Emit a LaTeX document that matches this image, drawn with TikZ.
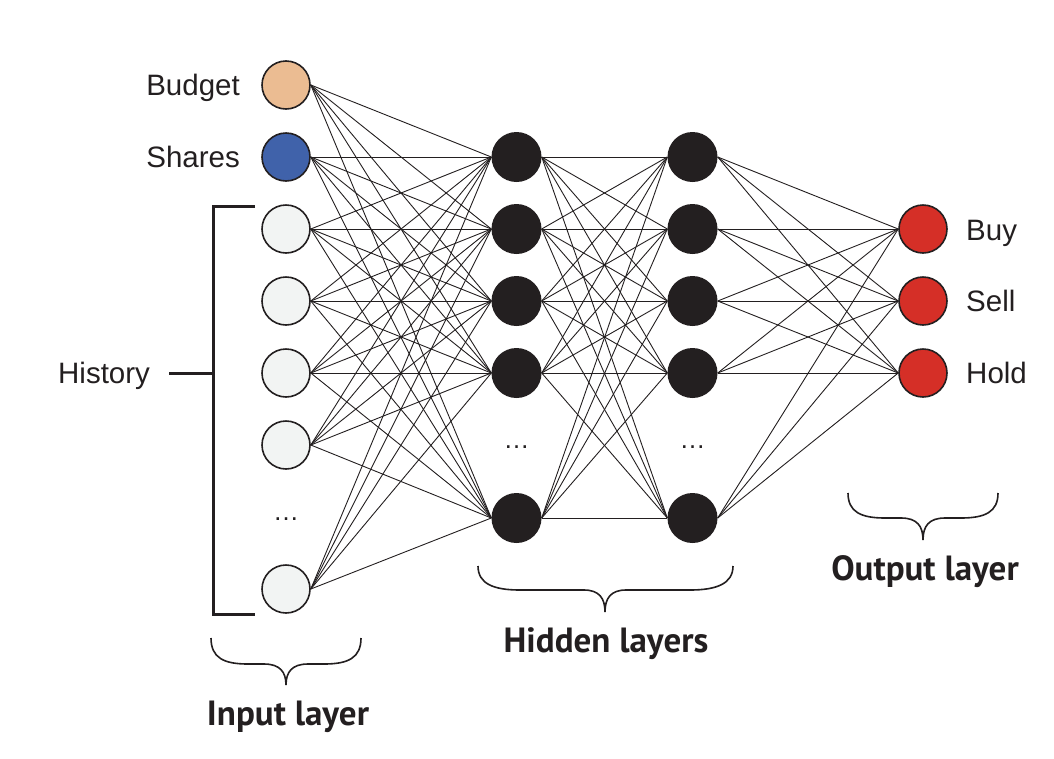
\documentclass[tikz,border=0pt]{standalone}
\usepackage{fontspec}
\setmainfont{Liberation Sans}
\newfontfamily\labfont{PT Sans}
\definecolor{budgetc}{HTML}{EBBC92}
\definecolor{sharesc}{HTML}{4062AA}
\definecolor{histc}{HTML}{F2F4F3}
\definecolor{hidc}{HTML}{231F20}
\definecolor{outc}{HTML}{D52F27}
\tikzset{
  neuron/.style={circle,minimum size=48pt,inner sep=0pt,draw=hidc,line width=1.6pt},
  hidneuron/.style={circle,minimum size=50pt,inner sep=0pt,fill=hidc,draw=none},
  conn/.style={draw=hidc,line width=0.9pt},
  lbl/.style={inner sep=0pt,font=\fontsize{29.5}{31}\selectfont,text=hidc},
  laylbl/.style={inner sep=0pt,anchor=base,font=\labfont\bfseries\fontsize{35}{38}\selectfont,text=hidc},
  dotsn/.style={inner sep=0pt,font=\fontsize{26}{28}\selectfont,text=hidc},
  brace/.style={draw=hidc,line width=1.6pt},
  bracket/.style={draw=hidc,line width=3pt}
}
\begin{document}
\begin{tikzpicture}[x=1pt,y=-1pt]
\useasboundingbox (0,0) rectangle (1054,758);
% input layer
\node[neuron,fill=budgetc] (i1) at (286,85) {};
\node[neuron,fill=sharesc] (i2) at (286,157) {};
\node[neuron,fill=histc] (i3) at (286,229) {};
\node[neuron,fill=histc] (i4) at (286,301) {};
\node[neuron,fill=histc] (i5) at (286,373) {};
\node[neuron,fill=histc] (i6) at (286,445) {};
\node[dotsn] (idots) at (286,519) {…};
\node[neuron,fill=histc] (i7) at (286,589) {};
% hidden layers
\foreach \n/\y in {1/157,2/229,3/301,4/373,5/518}{
  \node[hidneuron] (a\n) at (516.5,\y) {};
  \node[hidneuron] (b\n) at (692.5,\y) {};
}
\node[dotsn] (adots) at (516.5,447) {…};
\node[dotsn] (bdots) at (692.5,447) {…};
% output layer
\node[neuron,fill=outc] (o1) at (923,229) {};
\node[neuron,fill=outc] (o2) at (923,301) {};
\node[neuron,fill=outc] (o3) at (923,373) {};
% connections
\foreach \i in {1,...,7}{
  \foreach \j in {1,...,5}{
    \draw[conn] (i\i.east) -- (a\j.west);
  }
}
\foreach \i in {1,...,5}{
  \foreach \j in {1,...,5}{
    \draw[conn] (a\i.east) -- (b\j.west);
  }
  \foreach \j in {1,...,3}{
    \draw[conn] (b\i.east) -- (o\j.west);
  }
}
% labels
\node[lbl,anchor=base east] (lbud) at (240,95) {Budget};
\node[lbl,anchor=base east] (lsha) at (240,167) {Shares};
\node[lbl,anchor=base west] (lhis) at (58,383) {History};
\node[lbl,anchor=base west] (lbuy) at (966,240) {Buy};
\node[lbl,anchor=base west] (lsel) at (966,311) {Sell};
\node[lbl,anchor=base west] (lhol) at (966,383) {Hold};
% bracket
\coordinate (bt) at (255,206);
\coordinate (bb) at (255,614);
\coordinate (bm) at (213,373);
\coordinate (hm) at (169,373);
\draw[bracket] (bt) -- (213,206) -- (213,614) -- (bb);
\draw[bracket] (hm) -- (bm);
% braces
\draw[brace] (211,638) .. controls (211,658) and (224,664) .. (248,664) -- (264,664)
  .. controls (280,664) and (286,672) .. (286,685)
  .. controls (286,672) and (292,664) .. (308,664) -- (324,664)
  .. controls (348,664) and (361,658) .. (361,638);
\draw[brace] (478,566) .. controls (478,584) and (494,590) .. (520,590) -- (584,590)
  .. controls (599,590) and (605,598) .. (605,612)
  .. controls (605,598) and (611,590) .. (626,590) -- (690,590)
  .. controls (716,590) and (733,584) .. (733,566);
\draw[brace] (848,493) .. controls (848,512) and (861,518) .. (885,518) -- (901,518)
  .. controls (917,518) and (923,526) .. (923,540)
  .. controls (923,526) and (929,518) .. (945,518) -- (961,518)
  .. controls (985,518) and (998,512) .. (998,493);
\node[laylbl] (tin) at (288,725) {Input layer};
\node[laylbl] (thid) at (606,652) {Hidden layers};
\node[laylbl] (tout) at (925,580) {Output layer};
\end{tikzpicture}
\end{document}
